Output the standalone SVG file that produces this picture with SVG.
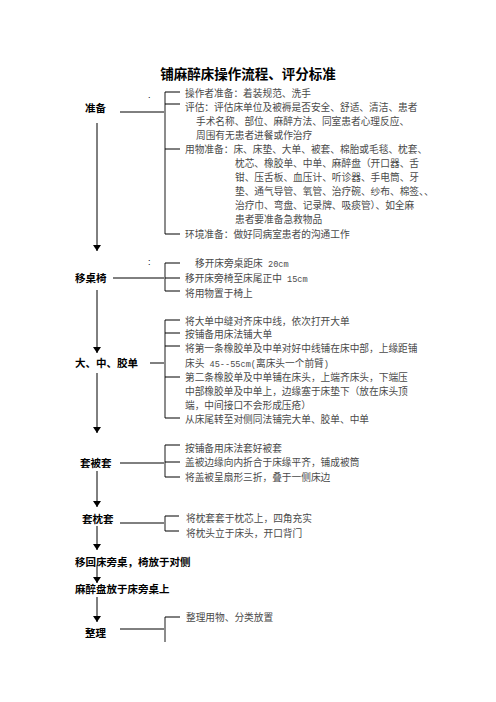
<svg xmlns="http://www.w3.org/2000/svg" width="496" height="702" viewBox="0 0 496 702">
<defs>
<style>
.title{font-family:"Noto Sans CJK SC","Liberation Sans",sans-serif;font-size:13.5px;font-weight:bold;fill:#000}
.lbl{font-family:"Noto Sans CJK SC","Liberation Sans",sans-serif;font-size:10.5px;font-weight:bold;fill:#000}
.txt{font-family:"Liberation Serif","Noto Sans CJK SC",serif;font-size:9.7px;fill:#4a4a4a}
.mono{font-family:"Liberation Mono","Noto Sans CJK SC",monospace;font-size:8.6px}
.dot{font-family:"Liberation Sans",sans-serif;font-size:9px;fill:#000}
.ln{stroke:#000;stroke-width:1;fill:none}
.br{stroke:#8c8c8c;stroke-width:2;fill:none}
.ar{stroke:#000;stroke-width:1;fill:none;marker-end:url(#ah)}
</style>
<marker id="ah" viewBox="0 0 6 8" refX="6" refY="4" markerWidth="6" markerHeight="8" markerUnits="userSpaceOnUse" orient="auto">
<path d="M0,0 L6,4 L0,8 z" fill="#000"/>
</marker>
</defs>
<rect width="496" height="702" fill="#fff"/>
<text class="title" x="248" y="79" text-anchor="middle">铺麻醉床操作流程、评分标准</text>
<text class="dot" x="148" y="98">.</text>
<text class="dot" x="148" y="265">:</text>

<g id="connectors">
<line class="ar" x1="97" y1="123" x2="97" y2="251"/>
<line class="ar" x1="97" y1="290" x2="97" y2="353"/>
<line class="ar" x1="97" y1="373" x2="97" y2="433"/>
<line class="ar" x1="97" y1="471" x2="97" y2="507"/>
<line class="ar" x1="97" y1="526" x2="97" y2="550"/>
<line class="ar" x1="97" y1="567" x2="97" y2="583"/>
<line class="ar" x1="97" y1="597" x2="97" y2="622"/>
<line class="ln" x1="120" y1="112" x2="165" y2="112"/>
<line class="ln" x1="113" y1="278" x2="165" y2="278"/>
<line class="ln" x1="150" y1="363" x2="165" y2="363"/>
<line class="ln" x1="120" y1="463" x2="165" y2="463"/>
<line class="ln" x1="120" y1="523" x2="165" y2="523"/>
<line class="ln" x1="120" y1="629" x2="165" y2="629"/>
</g>

<g id="zhunbei">
<text class="lbl" x="85" y="112">准备</text>
<line class="br" x1="165" y1="92" x2="165" y2="234"/>
<path class="ln" d="M165,92H180M165,104H180M165,149H180M165,234H180"/>
<text class="txt" x="185" y="96.5">操作者准备：着装规范、洗手</text>
<text class="txt" x="185" y="110.5">评估：评估床单位及被褥是否安全、舒适、清洁、患者</text>
<text class="txt" x="196" y="124.5">手术名称、部位、麻醉方法、同室患者心理反应、</text>
<text class="txt" x="196" y="138.5">周围有无患者进餐或作治疗</text>
<text class="txt" x="185" y="152.5">用物准备：床、床垫、大单、被套、棉胎或毛毯、枕套、</text>
<text class="txt" x="235" y="166.5">枕芯、橡胶单、中单、麻醉盘（开口器、舌</text>
<text class="txt" x="235" y="181">钳、压舌板、血压计、听诊器、手电筒、牙</text>
<text class="txt" x="235" y="195">垫、通气导管、氧管、治疗碗、纱布、棉签、、</text>
<text class="txt" x="235" y="209">治疗巾、弯盘、记录牌、吸痰管）、如全麻</text>
<text class="txt" x="235" y="223">患者要准备急救物品</text>
<text class="txt" x="185" y="237.5">环境准备：做好同病室患者的沟通工作</text>
</g>

<g id="yizhuoyi">
<text class="lbl" x="75" y="282">移桌椅</text>
<line class="br" x1="165" y1="263" x2="165" y2="291"/>
<path class="ln" d="M165,263H180M165,278H180M165,291H180"/>
<text class="txt" x="195" y="266.5">移开床旁桌距床<tspan class="mono"> 20cm</tspan></text>
<text class="txt" x="185" y="281.5">移开床旁椅至床尾正中<tspan class="mono"> 15cm</tspan></text>
<text class="txt" x="185" y="296.5">将用物置于椅上</text>
</g>

<g id="dazhongjiaodan">
<text class="lbl" x="75" y="367">大、中、胶单</text>
<line class="br" x1="165" y1="320" x2="165" y2="418"/>
<path class="ln" d="M165,320H180M165,333H180M165,346H180M165,377H180M165,418H180"/>
<text class="txt" x="185" y="324.5">将大单中缝对齐床中线，依次打开大单</text>
<text class="txt" x="185" y="337.5">按铺备用床法铺大单</text>
<text class="txt" x="185" y="351.5">将第一条橡胶单及中单对好中线铺在床中部，上缘距铺</text>
<text class="txt" x="185" y="366.5">床头<tspan class="mono"> 45--55cm(</tspan>离床头一个前臂<tspan class="mono">)</tspan></text>
<text class="txt" x="185" y="380.5">第二条橡胶单及中单铺在床头，上端齐床头，下端压</text>
<text class="txt" x="185" y="394.5">中部橡胶单及中单上，边缘塞于床垫下（放在床头顶</text>
<text class="txt" x="185" y="408.5">端，中间接口不会形成压疮）</text>
<text class="txt" x="185" y="422.5">从床尾转至对侧同法铺完大单、胶单、中单</text>
</g>

<g id="taobeitao">
<text class="lbl" x="80" y="467">套被套</text>
<line class="br" x1="165" y1="445" x2="165" y2="477"/>
<path class="ln" d="M165,445H180M165,462H180M165,477H180"/>
<text class="txt" x="185" y="451.5">按铺备用床法套好被套</text>
<text class="txt" x="185" y="465.5">盖被边缘向内折合于床缘平齐，铺成被筒</text>
<text class="txt" x="185" y="480.5">将盖被呈扇形三折，叠于一侧床边</text>
</g>

<g id="taozhentao">
<text class="lbl" x="82" y="523">套枕套</text>
<line class="br" x1="165" y1="516" x2="165" y2="531"/>
<path class="ln" d="M165,516H179M165,531H179"/>
<text class="txt" x="186" y="521.5">将枕套套于枕芯上，四角充实</text>
<text class="txt" x="186" y="536.5">将枕头立于床头，开口背门</text>
</g>

<g id="yihui">
<text class="lbl" x="75" y="566">移回床旁桌，椅放于对侧</text>
</g>

<g id="mazuipan">
<text class="lbl" x="75" y="593">麻醉盘放于床旁桌上</text>
</g>

<g id="zhengli">
<text class="lbl" x="85" y="637">整理</text>
<line class="br" x1="165" y1="617" x2="165" y2="642"/>
<path class="ln" d="M165,617H180"/>
<text class="txt" x="186" y="620.5">整理用物、分类放置</text>
</g>
</svg>
